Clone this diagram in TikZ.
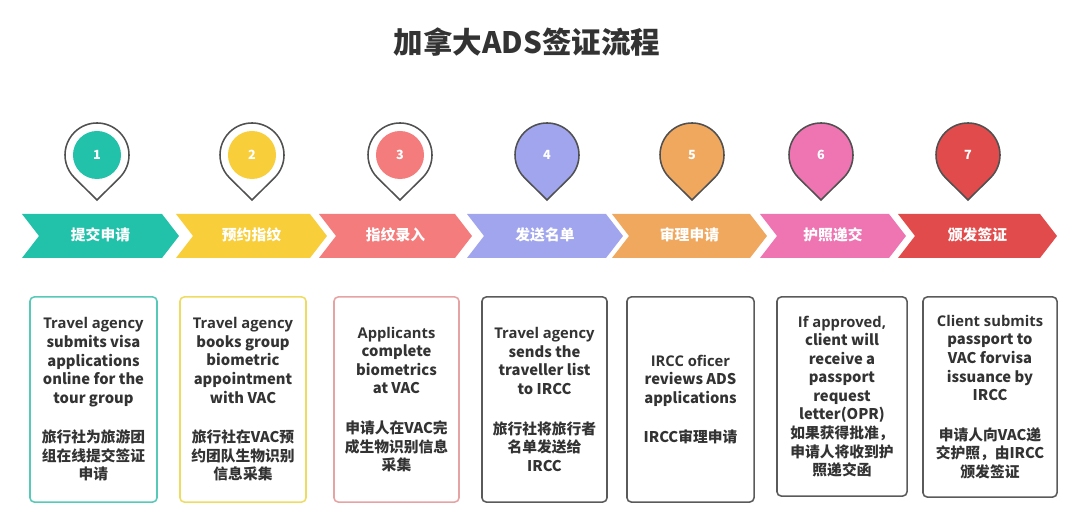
\documentclass[tikz,border=0pt]{standalone}
\usepackage{fontspec}
\setmainfont{Noto Sans CJK SC}
\newfontfamily\cjk{Noto Sans CJK SC}
\newfontfamily\en{Open Sans}

\definecolor{cA}{HTML}{22C1AA}
\definecolor{cB}{HTML}{F8CE3A}
\definecolor{cC}{HTML}{F47C7C}
\definecolor{cD}{HTML}{A0A5EE}
\definecolor{cE}{HTML}{F0A75E}
\definecolor{cF}{HTML}{EE74B2}
\definecolor{cG}{HTML}{E24B4B}
\definecolor{txtGrey}{HTML}{333333}
\definecolor{pinGrey}{HTML}{505050}
\definecolor{boxGrey}{HTML}{5A5A5A}
\definecolor{boxA}{HTML}{56C9B8}
\definecolor{boxB}{HTML}{EEDC62}
\definecolor{boxC}{HTML}{E6A3A3}

\tikzset{
  pinline/.style={draw=pinGrey, line width=1.1pt},
  numdot/.style={circle, minimum size=1.2cm, inner sep=0pt, text=white,
    font=\bfseries\fontsize{9}{10}\selectfont},
  numtext/.style={text=white, font=\bfseries\fontsize{9}{10}\selectfont},
  chevlabel/.style={text=white, font=\bfseries\fontsize{10.5}{12}\selectfont},
  infobox/.style={draw, rounded corners=3pt, line width=1.1pt, align=center,
    inner sep=2pt, text=txtGrey, font=\bfseries\fontsize{10.5}{13.2}\selectfont},
}

\begin{document}
\begin{tikzpicture}[x=0.025cm, y=0.025cm]

  \useasboundingbox (0,0) rectangle (1080,526);

  \node[text=txtGrey, font=\bfseries\fontsize{21}{24}\selectfont] (title) at (527,484) {加拿大ADS签证流程};

  \foreach \i/\x/\c in {1/97/cA, 2/252/cB, 3/400/cC} {
    \coordinate (pin\i) at (\x,371);
    \coordinate (tip\i) at (\x,326);
    \draw[pinline, fill=white] (tip\i) -- ([shift={(-45.3:0.8cm)}]pin\i)
      arc[start angle=-45.3, end angle=225.3, radius=0.8cm] -- cycle;
    \node[numdot, fill=\c] (num\i) at (pin\i) {\i};
  }
  \foreach \i/\x/\c in {4/547/cD, 5/692/cE, 6/821/cF, 7/968/cG} {
    \coordinate (pin\i) at (\x,371);
    \coordinate (tip\i) at (\x,326);
    \draw[pinline, fill=\c] (tip\i) -- ([shift={(-45.3:0.8cm)}]pin\i)
      arc[start angle=-45.3, end angle=225.3, radius=0.8cm] -- cycle;
    \node[numtext] (num\i) at (pin\i) {\i};
  }

  \foreach \i/\a/\b/\c/\t in {1/22/162/cA/提交申请, 2/176/310/cB/预约指纹,
    3/319/455/cC/指纹录入, 4/467/606/cD/发送名单, 5/612/750/cE/审理申请,
    6/760/889/cF/护照递交, 7/898/1040/cG/颁发签证} {
    \fill[\c] (\a,312) -- (\b,312) -- (\b+17,290) -- (\b,268) -- (\a,268)
      -- (\a+17,290) -- cycle;
    \node[chevlabel] (chev\i) at ({(\a+\b+17)/2},291) {\t};
  }

  \node[infobox, draw=boxA, minimum width=3.175cm, minimum height=5.125cm] (box1) at (93.5,126.5)
    {\en Travel agency\\submits visa\\applications\\online for the\\tour group\\[15pt]
     \cjk 旅行社为旅游团\\组在线提交签证\\申请};
  \node[infobox, draw=boxB, minimum width=3.15cm, minimum height=5.125cm] (box2) at (243,126.5)
    {\en Travel agency\\books group\\biometric\\appointment\\with VAC\\[15pt]
     \cjk 旅行社在VAC预\\约团队生物识别\\信息采集};
  \node[infobox, draw=boxC, minimum width=3.125cm, minimum height=5.125cm] (box3) at (396.5,126.5)
    {\en Applicants\\complete\\biometrics\\at VAC\\[15pt]
     \cjk 申请人在VAC完\\成生物识别信息\\采集};
  \node[infobox, draw=boxGrey, minimum width=3.125cm, minimum height=5.125cm] (box4) at (544.5,126.5)
    {\en Travel agency\\sends the\\traveller list\\to IRCC\\[15pt]
     \cjk 旅行社将旅行者\\名单发送给\\IRCC};
  \node[infobox, draw=boxGrey, minimum width=3.175cm, minimum height=5.125cm] (box5) at (690.5,126.5)
    {\en IRCC oficer\\reviews ADS\\applications\\[15pt]
     \cjk IRCC审理申请};
  \node[infobox, draw=boxGrey, minimum width=3.25cm, minimum height=4.975cm] (box6) at (842,129.5)
    {\en If approved,\\client will\\receive a\\passport\\request\\letter(OPR)\\
     \cjk 如果获得批准，\\申请人将收到护\\照递交函};
  \node[infobox, draw=boxGrey, minimum width=3.35cm, minimum height=5cm] (box7) at (990,129)
    {\en Client submits\\passport to\\VAC forvisa\\issuance by\\IRCC\\[15pt]
     \cjk 申请人向VAC递\\交护照，由IRCC\\颁发签证};

\end{tikzpicture}
\end{document}
